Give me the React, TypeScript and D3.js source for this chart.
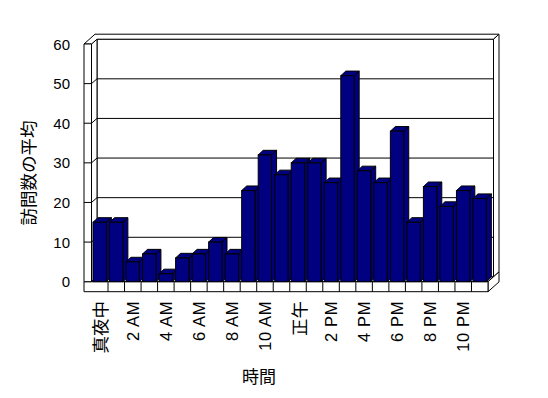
import React, { useEffect, useRef } from 'react';
import * as d3 from 'd3';

// hourly categories (only every other label is shown, like the original)
const hours = ['真夜中', '1 AM', '2 AM', '3 AM', '4 AM', '5 AM', '6 AM', '7 AM', '8 AM', '9 AM', '10 AM', '11 AM',
    '正午', '1 PM', '2 PM', '3 PM', '4 PM', '5 PM', '6 PM', '7 PM', '8 PM', '9 PM', '10 PM', '11 PM'];
const visits = [15, 15, 5, 7, 2, 6, 7, 10, 7, 23, 32, 27, 30, 30, 25, 52, 28, 25, 38, 15, 24, 19, 23, 21];
const yTicks = [0, 10, 20, 30, 40, 50, 60];
const yTitle = '訪問数の平均';
const xTitle = '時間';

const FONT = '"Liberation Sans", sans-serif';
const CJK = '"Noto Sans CJK JP", sans-serif';
const isCJK = (s: string) => /[^\x00-\x7f]/.test(s);

function drawChart(node: SVGSVGElement) {
    const svg = d3.select(node);
    svg.selectAll('*').remove();

    const left = 91.5, right = 488, wallX = 84;
    const floorH = 10;
    const dx = 5.5, dy = -4.8;      // plot depth
    const tx = 5.5, ty = -5;        // wall thickness
    const bdx = 5, bdy = -4.6;      // bar depth

    const x = d3.scaleBand<number>().domain(d3.range(hours.length)).range([left, right]);
    const y = d3.scaleLinear().domain([0, 60]).range([281.7, 44]);
    const y0 = y(0), yTop = y(60);

    const g = svg.append('g')
        .attr('stroke', 'black')
        .attr('stroke-width', 1)
        .attr('fill', 'white');

    const pts = (p: number[][]) => p.map(q => q.join(',')).join(' ');
    const poly = (p: number[][]) => g.append('polygon').attr('points', pts(p));
    const inner = yTicks.filter(t => t > 0 && t < 60);

    // back wall inner face with gridlines
    poly([[left + dx, yTop + dy], [right + dx, yTop + dy], [right + dx, y0 + dy], [left + dx, y0 + dy]]);
    g.selectAll('line.grid')
        .data(inner).enter()
        .append('line')
        .attr('x1', left + dx).attr('x2', right + dx)
        .attr('y1', d => y(d) + dy).attr('y2', d => y(d) + dy);

    // left wall inner face + tick diagonals
    poly([[left, yTop], [left + dx, yTop + dy], [left + dx, y0 + dy], [left, y0]]);
    g.selectAll('line.diag')
        .data(inner).enter()
        .append('line')
        .attr('x1', left).attr('x2', left + dx)
        .attr('y1', d => y(d)).attr('y2', d => y(d) + dy);

    // wall tops (L shaped slab) and right end of back wall
    poly([[wallX, yTop], [left, yTop], [left + dx, yTop + dy], [right + dx, yTop + dy],
        [right + dx + tx, yTop + dy + ty], [wallX + dx + tx, yTop + dy + ty]]);
    poly([[right + dx, yTop + dy], [right + dx + tx, yTop + dy + ty], [right + dx + tx, y0 + dy + ty], [right + dx, y0 + dy]]);

    // floor: top, right end, front face with category ticks
    poly([[left, y0], [right, y0], [right + dx, y0 + dy], [left + dx, y0 + dy]]);
    poly([[right, y0], [right + dx + tx, y0 + dy + ty], [right + dx + tx, y0 + dy + ty + floorH], [right, y0 + floorH]]);
    poly([[wallX, y0], [right, y0], [right, y0 + floorH], [wallX, y0 + floorH]]);
    g.selectAll('line.cat')
        .data(d3.range(1, hours.length)).enter()
        .append('line')
        .attr('x1', d => x(d)!).attr('x2', d => x(d)!)
        .attr('y1', y0).attr('y2', y0 + floorH);

    // left wall front face + ticks
    poly([[wallX, yTop], [left, yTop], [left, y0], [wallX, y0]]);
    g.selectAll('line.tick')
        .data(inner).enter()
        .append('line')
        .attr('x1', wallX).attr('x2', left)
        .attr('y1', d => y(d)).attr('y2', d => y(d));

    // bars, left to right so each covers the previous side face
    const bw = x.bandwidth() * 0.81;
    const off = x.bandwidth() * 0.09;
    visits.forEach((v, i) => {
        const x0 = x(i)! + off, x1 = x0 + bw, yt = y(v);
        const bar = g.append('g').attr('fill', '#000080');
        bar.append('polygon').attr('points', pts([[x1, yt], [x1 + bdx, yt + bdy], [x1 + bdx, y0 + bdy], [x1, y0]]));
        bar.append('polygon').attr('points', pts([[x0, yt], [x1, yt], [x1 + bdx, yt + bdy], [x0 + bdx, yt + bdy]]));
        bar.append('rect').attr('x', x0).attr('y', yt).attr('width', bw).attr('height', y0 - yt);
    });

    // y tick labels
    svg.selectAll('text.ytick')
        .data(yTicks).enter()
        .append('text')
        .attr('x', 70).attr('y', d => y(d))
        .attr('text-anchor', 'end')
        .attr('dominant-baseline', 'central')
        .attr('fill', 'black')
        .style('font-family', FONT).style('font-size', '15px')
        .text(d => d);

    // category labels (every other hour)
    svg.selectAll('text.xtick')
        .data(d3.range(0, hours.length, 2)).enter()
        .append('text')
        .attr('transform', d => `translate(${x(d)! + x.bandwidth() / 2},301) rotate(-90)`)
        .attr('text-anchor', 'end')
        .attr('dominant-baseline', 'central')
        .attr('fill', 'black')
        .style('font-family', d => isCJK(hours[d]) ? CJK : FONT)
        .style('font-size', d => isCJK(hours[d]) ? '17.5px' : '16.5px')
        .style('letter-spacing', d => isCJK(hours[d]) ? '0px' : '0.6px')
        .text(d => hours[d]);

    svg.append('text')
        .attr('transform', 'translate(27,173) rotate(-90)')
        .attr('text-anchor', 'middle')
        .attr('dominant-baseline', 'central')
        .attr('fill', 'black')
        .style('font-family', CJK).style('font-size', '17.5px')
        .text(yTitle);

    svg.append('text')
        .attr('x', 259).attr('y', 375)
        .attr('text-anchor', 'middle')
        .attr('dominant-baseline', 'central')
        .attr('fill', 'black')
        .style('font-family', CJK).style('font-size', '17px')
        .text(xTitle);
}

export default function App() {
    const ref = useRef<SVGSVGElement>(null);
    useEffect(() => {
        if (ref.current) drawChart(ref.current);
    }, []);
    return (
        <svg ref={ref} width={548} height={398}
            style={{ position: 'absolute', left: 0, top: 0, background: 'white' }} />
    );
}
